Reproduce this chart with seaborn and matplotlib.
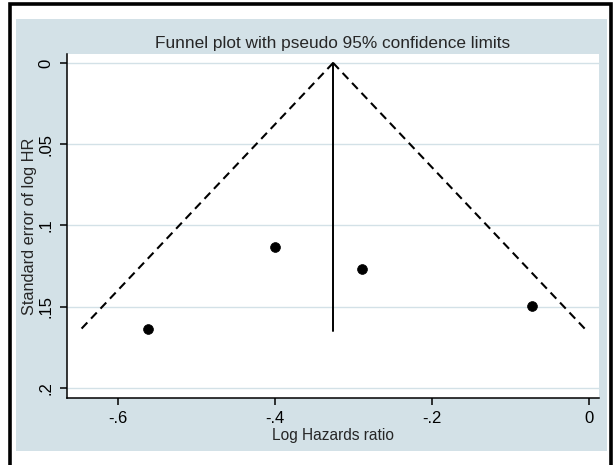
import numpy as np
import pandas as pd
import matplotlib
matplotlib.use("Agg")
import matplotlib.pyplot as plt
import seaborn as sns
from matplotlib.patches import Rectangle

# Data
log_hr = [-0.562, -0.400, -0.289, -0.073]
se_log_hr = [0.164, 0.113, 0.127, 0.1495]
pooled = -0.326
se_max = 0.165
x_ticks = [-0.6, -0.4, -0.2, 0.0]
x_tick_labels = ["-.6", "-.4", "-.2", "0"]
y_ticks = [0, 0.05, 0.1, 0.15, 0.2]
y_tick_labels = ["0", ".05", ".1", ".15", ".2"]

df = pd.DataFrame({"Log Hazards ratio": log_hr, "Standard error of log HR": se_log_hr})

sns.set_theme(style="white")
plt.rcParams['font.family'] = ['Liberation Sans', 'DejaVu Sans']

W, H = 614, 465
fig = plt.figure(figsize=(W / 100, H / 100), dpi=100)
fig.patch.set_facecolor("white")

bluish = "#d3e1e7"
# background panel
fig.patches.append(Rectangle((16 / W, 1 - 451 / H), (607 - 16) / W, (451 - 19) / H,
                             transform=fig.transFigure, facecolor=bluish, edgecolor="none", zorder=0))
# outer black frame
fig.patches.append(Rectangle((10 / W, -0.05), (611 - 10) / W, 1 - 4 / H + 0.05,
                             transform=fig.transFigure, facecolor="none", edgecolor="black",
                             linewidth=2.6, zorder=1))

ax = fig.add_axes([67 / W, 1 - 398 / H, (599 - 67) / W, (398 - 54) / H])
ax.set_zorder(5)
ax.set_facecolor("white")

# gridlines
for yt in y_ticks:
    ax.axhline(yt, color=bluish, linewidth=1.0, zorder=0)

# funnel lines
se_line = np.array([0.0, se_max])
ax.plot(pooled - 1.96 * se_line, se_line, color="black", linestyle=(0, (4, 2.6)), linewidth=1.5, zorder=2)
ax.plot(pooled + 1.96 * se_line, se_line, color="black", linestyle=(0, (4, 2.6)), linewidth=1.5, zorder=2)
ax.plot([pooled, pooled], [0, se_max], color="black", linewidth=1.4, zorder=2)

sns.scatterplot(data=df, x="Log Hazards ratio", y="Standard error of log HR", ax=ax,
                color="black", s=50, edgecolor="black", linewidth=0.5, zorder=3)

ax.set_xlim(-0.665, 0.0127)
ax.set_ylim(0.2062, -0.0055)

ax.set_xticks(x_ticks)
ax.set_xticklabels(x_tick_labels)
ax.set_yticks(y_ticks)
ax.set_yticklabels(y_tick_labels, rotation=90, va="center")

for s in ["top", "right"]:
    ax.spines[s].set_visible(False)
for s in ["left", "bottom"]:
    ax.spines[s].set_color("black")
    ax.spines[s].set_linewidth(1.1)

ax.tick_params(axis="both", which="major", direction="out", length=5, width=1.1,
               color="black", labelcolor="black", bottom=True, left=True)
ax.tick_params(axis="x", labelsize=12, pad=4.5)
ax.tick_params(axis="y", labelsize=12, pad=4.5)

ax.set_xlabel("Log Hazards ratio", fontsize=11.2, labelpad=1)
ax.set_ylabel("Standard error of log HR", fontsize=11.7, labelpad=1)
ax.set_title("Funnel plot with pseudo 95% confidence limits", fontsize=12.4, pad=4)

fig.savefig("out.png", dpi=100, facecolor="white")
